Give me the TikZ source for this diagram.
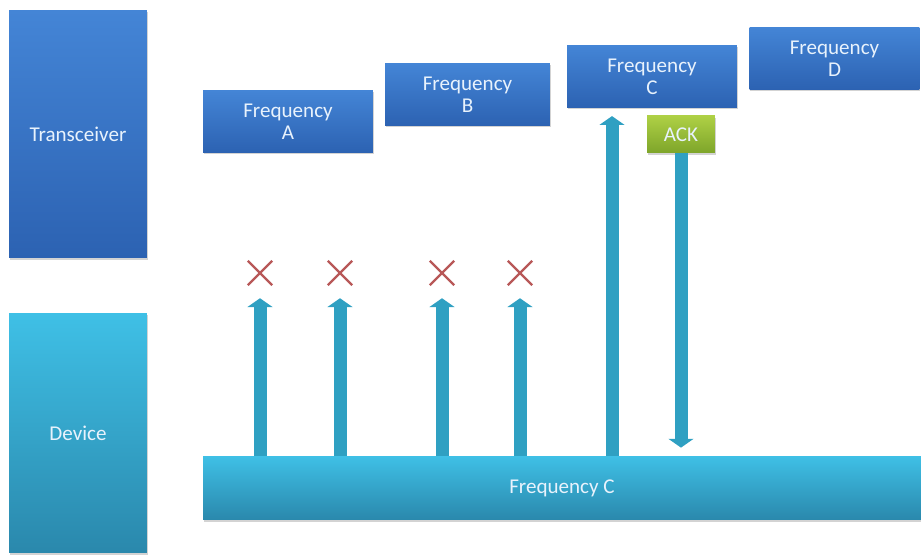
\documentclass[tikz,border=0pt]{standalone}
\usepackage{fontspec}
\setmainfont{Carlito}
\usetikzlibrary{shadows,shapes.misc,arrows.meta}

\definecolor{boxblue}{HTML}{4485D6}
\definecolor{boxbluedark}{HTML}{2C62B2}
\definecolor{devcyan}{HTML}{3FC0E6}
\definecolor{devcyandark}{HTML}{2A88AC}
\definecolor{sigteal}{HTML}{2FA0C2}
\definecolor{ackgreen}{HTML}{AED045}
\definecolor{ackgreendark}{HTML}{7EA52A}
\definecolor{crossred}{HTML}{B85858}
\definecolor{labelwhite}{HTML}{E8F2FC}

\tikzstyle{freq} = [rectangle, minimum width=3.4cm, minimum height=1.25cm, inner sep=0pt, text centered, align=center, text=labelwhite, top color=boxblue, bottom color=boxbluedark, drop shadow={shadow xshift=0.5pt, shadow yshift=-1pt, opacity=0.35}, font=\fontsize{12}{12.5}\selectfont]
\tikzstyle{unit} = [freq, minimum width=2.76cm]
\tikzstyle{device} = [freq, top color=devcyan, bottom color=devcyandark]
\tikzstyle{ack} = [freq, minimum width=1.36cm, minimum height=0.74cm, top color=ackgreen, bottom color=ackgreendark]
\tikzstyle{lost} = [cross out, draw=crossred, line width=1.4pt, minimum size=0.44cm, inner sep=0pt]
\tikzstyle{sig} = [draw=sigteal, line width=7.4pt, -{Triangle[width=14pt,length=5pt]}]

\begin{document}
\begin{tikzpicture}[x=0.02cm, y=-0.02cm]
\useasboundingbox (0,0) rectangle (921,560);

\node (trans) [unit, minimum height=4.96cm] at (78,134) {Transceiver};
\node (dev) [unit, minimum height=4.8cm, top color=devcyan, bottom color=devcyandark] at (78,433) {Device};

\node (freqA) [freq] at (288,121.5) {Frequency\\A};
\node (freqB) [freq, minimum width=3.3cm] at (467.5,94.5) {Frequency\\B};
\node (freqC) [freq] at (652,76.5) {Frequency\\C};
\node (freqD) [freq] at (834.5,58.5) {Frequency\\D};

\node (bar) [device, minimum width=14.36cm, minimum height=1.28cm] at (562,488) {Frequency C};
\node (ack) [ack] at (681,134.5) {ACK};

% blocked tries
\node (x1) [lost] at (260,273) {};
\node (x2) [lost] at (340,273) {};
\node (x3) [lost] at (442,273) {};
\node (x4) [lost] at (520,273) {};
\draw [sig, shorten >=0.26cm] (x1 |- bar.north) -- (x1.south);
\draw [sig, shorten >=0.26cm] (x2 |- bar.north) -- (x2.south);
\draw [sig, shorten >=0.26cm] (x3 |- bar.north) -- (x3.south);
\draw [sig, shorten >=0.26cm] (x4 |- bar.north) -- (x4.south);

% hit on C and the answer
\coordinate (hitC) at (612,0);
\draw [sig, shorten >=0.16cm] (hitC |- bar.north) -- (hitC |- freqC.south);
\draw [sig, shorten >=0.16cm] (ack.south) -- (ack.south |- bar.north);
\end{tikzpicture}
\end{document}
